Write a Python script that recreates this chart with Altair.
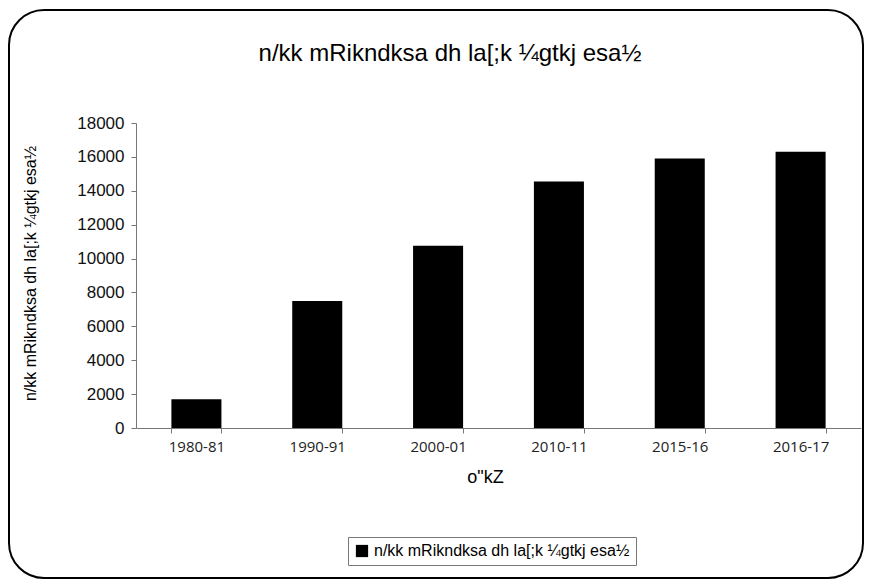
import altair as alt
import pandas as pd

categories = ["1980-81", "1990-91", "2000-01", "2010-11", "2015-16", "2016-17"]
values = [1700, 7500, 10750, 14550, 15900, 16300]
series_name = "n/kk mRikndksa dh la[;k ¼gtkj esa½"
title_text = "n/kk mRikndksa dh la[;k ¼gtkj esa½"
y_title = "n/kk mRikndksa dh la[;k ¼gtkj esa½"
x_title = 'o"kZ'
y_ticks = [0, 2000, 4000, 6000, 8000, 10000, 12000, 14000, 16000, 18000]

df = pd.DataFrame({"year": categories, "value": values, "series": [series_name] * len(categories)})

FONT = "Liberation Sans"

bars = alt.Chart(df).mark_bar(color="black").encode(
    x=alt.X("year:N", sort=categories,
            scale=alt.Scale(paddingInner=0.586, paddingOuter=0.293),
            axis=alt.Axis(title=x_title, labelAngle=0, tickBand="extent", tickSize=5,
                          labelFontSize=15, labelFont="Open Sans", labelColor="#222",
                          labelPadding=6,
                          domainColor="#777", tickColor="#777",
                          titleFont=FONT, titleFontSize=18, titleFontWeight="normal",
                          titleX=349, titleY=49, titleBaseline="middle", titleAlign="center")),
    y=alt.Y("value:Q", scale=alt.Scale(domain=[0, 18000], nice=False),
            axis=alt.Axis(title=y_title, values=y_ticks, format="d", grid=False, tickSize=5,
                          labelFontSize=17, labelFont=FONT, labelColor="#111",
                          labelPadding=7, domainColor="#777", tickColor="#777",
                          titleFont=FONT, titleFontSize=16, titleFontWeight="normal",
                          titleX=-106, titleY=150, titleAngle=270,
                          titleAlign="center", titleBaseline="middle")),
    color=alt.Color("series:N", scale=alt.Scale(range=["black"]),
                    legend=alt.Legend(title=None, orient="none", legendX=212, legendY=414,
                                      symbolType="square", symbolSize=150, labelLimit=0,
                                      labelFont=FONT, labelFontSize=16, labelColor="black",
                                      strokeColor="#777", padding=6)),
)

title = alt.Chart(alt.Data(values=[{"t": title_text}])).mark_text(
    font=FONT, fontSize=24, color="black", baseline="middle", align="center"
).encode(text="t:N", x=alt.value(314), y=alt.value(-69))

border = alt.Chart(alt.Data(values=[{"a": 1}])).mark_rect(
    cornerRadius=35, fillOpacity=0, stroke="black", strokeWidth=2
).encode(
    x=alt.value(-127), x2=alt.value(727), y=alt.value(-113), y2=alt.value(455)
)

chart = alt.layer(border, title, bars).properties(
    width=725, height=305,
    padding={"left": 128, "top": 115, "right": 3, "bottom": 151},
    autosize=alt.AutoSizeParams(type="none"),
).configure_view(stroke=None)

chart.save("out.html", embed_options={"renderer": "svg", "actions": False})
